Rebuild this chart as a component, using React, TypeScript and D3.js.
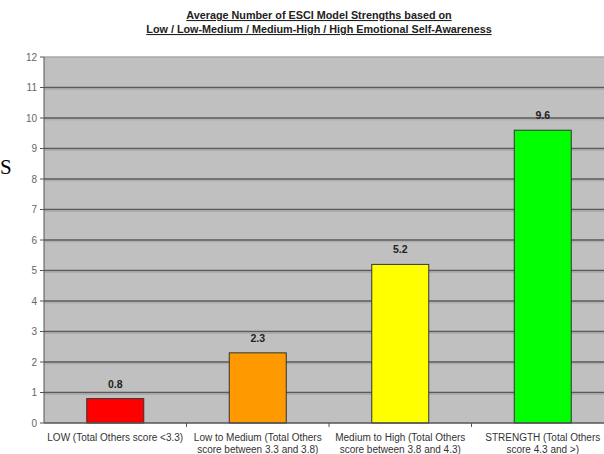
import React from "react";
import * as d3 from "d3";

const categoriesLine1 = [
  "LOW (Total Others score <3.3)",
  "Low to Medium (Total Others",
  "Medium to High (Total Others",
  "STRENGTH (Total Others",
];
const categoriesLine2 = ["", "score between 3.3 and 3.8)", "score between 3.8 and 4.3)", "score 4.3 and >)"];
const values = [0.8, 2.3, 5.2, 9.6];
const valueLabels = ["0.8", "2.3", "5.2", "9.6"];
const barColors = ["#ff0000", "#ff9900", "#ffff00", "#00ff00"];
const yTicks = [0, 1, 2, 3, 4, 5, 6, 7, 8, 9, 10, 11, 12];
const titleLines = [
  "Average Number of ESCI Model Strengths based on",
  "Low / Low-Medium / Medium-High / High Emotional Self-Awareness",
];

export default function App() {
  const W = 604;
  const H = 454;
  const left = 44;
  const right = 614;
  const top = 57;
  const bottom = 423;
  const ids = categoriesLine1.map((_, i) => String(i));
  const x = d3.scaleBand<string>().domain(ids).range([left, right]).paddingInner(0.6).paddingOuter(0.3);
  const xb = d3.scaleBand<string>().domain(ids).range([left, right]);
  const y = d3.scaleLinear().domain([0, 12]).range([bottom, top]);
  const font = "Arial, 'Liberation Sans', sans-serif";
  const narrow = "'Liberation Sans Narrow', 'Arial Narrow', Arial, sans-serif";
  return (
    <svg width={W} height={H} style={{ position: "absolute", left: 0, top: 0, background: "#fff" }}>
      {titleLines.map((t, i) => (
        <text key={i} x={319} y={19 + i * 14} textAnchor="middle" fontFamily={narrow} fontWeight="bold"
          fontSize={10.8} fill="#222" textDecoration="underline">{t}</text>
      ))}
      <text x={0} y={174} fontFamily="'Liberation Serif', 'Times New Roman', serif" fontSize={21} fill="#000">S</text>
      <rect x={left} y={top} width={right - left} height={bottom - top} fill="#c0c0c0" />
      {yTicks.filter((t) => t > 0).map((t) => (
        <g key={t}>
          <line x1={left} x2={right} y1={y(t)} y2={y(t)} stroke={t === 12 ? "#a8a8a8" : "#5a5a5a"} strokeWidth={1.6} />
          {t < 12 && <line x1={left} x2={right} y1={y(t) + 1.8} y2={y(t) + 1.8} stroke="#a8a8a8" strokeWidth={1} />}
        </g>
      ))}
      {values.map((v, i) => (
        <g key={i}>
          <rect x={x(String(i))!} y={y(v)} width={x.bandwidth()} height={y(0) - y(v)} fill={barColors[i]}
            stroke="#333" strokeWidth={1} />
          <text x={x(String(i))! + x.bandwidth() / 2} y={y(v) - 11} textAnchor="middle" fontFamily={font}
            fontWeight="bold" fontSize={10.5} fill="#222">{valueLabels[i]}</text>
        </g>
      ))}
      <line x1={left} x2={left} y1={top} y2={bottom} stroke="#555" strokeWidth={1} />
      <line x1={left} x2={right} y1={bottom} y2={bottom} stroke="#555" strokeWidth={1.3} />
      {yTicks.map((t) => (
        <g key={t}>
          <line x1={left - 4} x2={left} y1={y(t)} y2={y(t)} stroke="#555" />
          <text x={37} y={y(t) + 3.5} textAnchor="end" fontFamily={font} fontSize={10} fill="#666">{t}</text>
        </g>
      ))}
      {ids.slice(1).map((id) => (
        <line key={id} x1={xb(id)!} x2={xb(id)!} y1={bottom} y2={bottom + 4} stroke="#555" />
      ))}
      {ids.map((id, i) => (
        <g key={id}>
          <text x={xb(id)! + xb.bandwidth() / 2} y={441} textAnchor="middle" fontFamily={font} fontSize={10} fill="#333">{categoriesLine1[i]}</text>
          <text x={xb(id)! + xb.bandwidth() / 2} y={453} textAnchor="middle" fontFamily={font} fontSize={10} fill="#333">{categoriesLine2[i]}</text>
        </g>
      ))}
    </svg>
  );
}
